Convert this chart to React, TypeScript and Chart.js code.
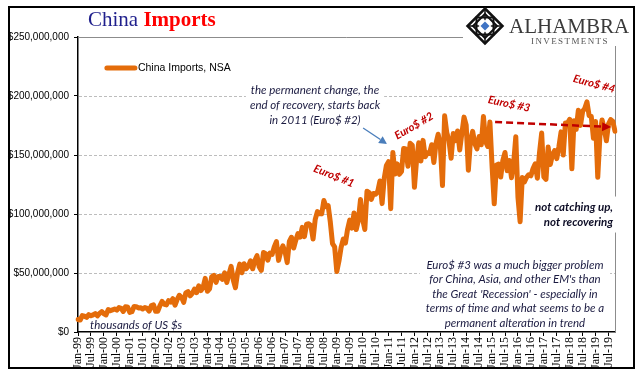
import React, { useEffect, useRef } from 'react';
import { Chart, registerables } from 'chart.js';

Chart.register(...registerables);

// ---------------- DATA (China imports, NSA, thousands of US$ — stored in millions of those units) ----------------
const START_YEAR = 1999;
const MONTHS = ['Jan', 'Feb', 'Mar', 'Apr', 'May', 'Jun', 'Jul', 'Aug', 'Sep', 'Oct', 'Nov', 'Dec'];

const imports1999 = [10.6, 10.1, 13.9, 13.4, 12.4, 14.7, 13.7, 14.5, 15.6, 13.7, 15.8, 17.3];
const imports2000 = [15.4, 14.5, 19.0, 18.1, 18.8, 19.5, 18.5, 20.7, 20.0, 17.4, 21.3, 21.2];
const imports2001 = [16.6, 17.2, 21.6, 21.5, 20.4, 20.6, 19.5, 20.8, 20.0, 17.7, 22.4, 23.0];
const imports2002 = [17.5, 17.6, 22.4, 25.9, 23.4, 23.0, 26.6, 25.4, 28.2, 22.7, 27.7, 31.1];
const imports2003 = [29.4, 25.1, 33.2, 34.3, 30.7, 32.8, 36.4, 33.3, 39.1, 35.1, 37.9, 45.5];
const imports2004 = [34.5, 36.5, 46.8, 48.0, 42.1, 47.1, 47.0, 44.6, 50.2, 42.0, 49.1, 55.6];
const imports2005 = [44.1, 37.5, 50.3, 57.5, 50.2, 57.9, 53.7, 55.8, 60.4, 53.6, 60.6, 64.7];
const imports2006 = [55.3, 52.2, 67.4, 66.4, 60.9, 66.8, 65.7, 72.0, 76.6, 60.7, 68.1, 73.0];
const imports2007 = [68.1, 58.8, 76.7, 80.3, 71.2, 77.8, 83.4, 80.4, 88.7, 80.8, 91.3, 91.7];
const imports2008 = [90.1, 78.8, 95.5, 102.0, 100.3, 100.1, 111.4, 106.2, 107.1, 93.1, 74.9, 72.2];
const imports2009 = [51.3, 60.1, 71.7, 78.8, 75.4, 87.1, 94.8, 88.0, 100.9, 86.8, 94.6, 112.3];
const imports2010 = [95.3, 86.9, 119.3, 118.2, 112.3, 117.4, 116.8, 119.3, 128.0, 108.8, 130.4, 141.1];
const imports2011 = [144.3, 104.5, 152.2, 133.9, 142.5, 133.6, 136.0, 155.6, 155.2, 140.5, 160.0, 158.2];
const imports2012 = [122.6, 146.0, 160.3, 144.9, 162.4, 148.5, 151.8, 151.3, 158.7, 143.6, 159.8, 167.6];
const imports2013 = [158.2, 124.1, 183.2, 168.9, 162.4, 147.2, 168.2, 162.1, 170.4, 154.3, 168.4, 182.1];
const imports2014 = [175.2, 137.1, 162.4, 170.0, 159.6, 155.2, 165.6, 158.7, 182.7, 161.5, 157.2, 177.9];
const imports2015 = [140.3, 108.6, 141.5, 142.2, 131.3, 145.5, 152.1, 136.6, 145.3, 130.8, 143.1, 165.5];
const imports2016 = [114.2, 93.5, 130.9, 127.2, 131.1, 133.3, 132.4, 138.6, 142.5, 130.3, 152.2, 168.6];
const imports2017 = [131.5, 129.3, 156.7, 142.0, 150.2, 153.8, 146.9, 157.3, 169.6, 150.0, 177.2, 177.1];
const imports2018 = [180.2, 138.3, 179.1, 171.7, 188.0, 175.1, 187.0, 189.5, 195.0, 183.3, 182.7, 164.2];
const imports2019 = [178.4, 131.1, 166.0, 179.7, 172.1, 162.0, 176.4, 180.0, 178.4, 170.1];

const importsMillions = [
  ...imports1999, ...imports2000, ...imports2001, ...imports2002, ...imports2003, ...imports2004,
  ...imports2005, ...imports2006, ...imports2007, ...imports2008, ...imports2009, ...imports2010,
  ...imports2011, ...imports2012, ...imports2013, ...imports2014, ...imports2015, ...imports2016,
  ...imports2017, ...imports2018, ...imports2019,
];

const categories = importsMillions.map(
  (_, i) => `${MONTHS[i % 12]}-${String((START_YEAR + Math.floor(i / 12)) % 100).padStart(2, '0')}`
);

const SERIES_NAME = 'China Imports, NSA';
const Y_MIN = 0;
const Y_MAX = 250000000;
const Y_STEP = 50000000;
const LABEL_EVERY = 6;

const TITLE_A = 'China';
const TITLE_B = 'Imports';
const LOGO_MAIN = 'ALHAMBRA';
const LOGO_SUB = 'INVESTMENTS';

const noteRecovery = ['the permanent change, the', 'end of recovery, starts back', 'in 2011 (Euro$ #2)'];
const noteCatching = ['not catching up,', 'not recovering'];
const noteBox = [
  'Euro$ #3 was a much bigger problem',
  "for China, Asia, and other EM's than",
  "the Great 'Recession' - especially in",
  'terms of time and what seems to be a',
  'permanent alteration in trend',
];
const noteUnits = 'thousands of US $s';
const euroLabels = ['Euro$ #1', 'Euro$ #2', 'Euro$ #3', 'Euro$ #4'];

// ---------------- STYLES ----------------
const ORANGE = '#E46C0A';
const NOTE_COLOR = '#1a1a40';
const EURO_RED = '#C00000';
const ITALIC = 'italic 11.5px Lato, "Open Sans", sans-serif';
const BOLD_ITALIC = 'italic bold 11.5px Lato, "Open Sans", sans-serif';
const EURO_FONT = 'italic bold 11px Lato, "Open Sans", sans-serif';

function drawArrow(ctx: CanvasRenderingContext2D, x1: number, y1: number, x2: number, y2: number, color: string, lw: number, head: number, dash: number[]) {
  const ang = Math.atan2(y2 - y1, x2 - x1);
  const bx = x2 - head * Math.cos(ang);
  const by = y2 - head * Math.sin(ang);
  ctx.save();
  ctx.strokeStyle = color;
  ctx.lineWidth = lw;
  ctx.setLineDash(dash);
  ctx.beginPath();
  ctx.moveTo(x1, y1);
  ctx.lineTo(bx, by);
  ctx.stroke();
  ctx.setLineDash([]);
  ctx.fillStyle = color;
  ctx.beginPath();
  ctx.moveTo(x2, y2);
  ctx.lineTo(bx + head * 0.5 * Math.sin(ang), by - head * 0.5 * Math.cos(ang));
  ctx.lineTo(bx - head * 0.5 * Math.sin(ang), by + head * 0.5 * Math.cos(ang));
  ctx.closePath();
  ctx.fill();
  ctx.restore();
}

function whiteBox(ctx: CanvasRenderingContext2D, lines: string[], font: string, x: number, y0: number, lh: number, align: 'center' | 'right' | 'left') {
  ctx.save();
  ctx.font = font;
  const w = Math.max(...lines.map((l) => ctx.measureText(l).width));
  let left = x - w / 2;
  if (align === 'right') left = x - w;
  if (align === 'left') left = x;
  ctx.fillStyle = '#fff';
  ctx.fillRect(left - 4, y0 - lh / 2 - 3, w + 8, lh * lines.length + 6);
  ctx.restore();
}

function textLines(ctx: CanvasRenderingContext2D, lines: string[], font: string, color: string, x: number, y0: number, lh: number, align: CanvasTextAlign) {
  ctx.save();
  ctx.font = font;
  ctx.fillStyle = color;
  ctx.textAlign = align;
  ctx.textBaseline = 'middle';
  lines.forEach((l, k) => ctx.fillText(l, x, y0 + k * lh));
  ctx.restore();
}

const annotationPlugin = {
  id: 'annotations',
  beforeDraw(chart: any) {
    const ctx = chart.ctx as CanvasRenderingContext2D;
    ctx.save();
    ctx.fillStyle = '#fff';
    ctx.fillRect(0, 0, chart.width, chart.height);
    ctx.strokeStyle = '#000';
    ctx.lineWidth = 2;
    ctx.strokeRect(9, 7, 625, 361);
    ctx.restore();
  },
  beforeDatasetsDraw(chart: any) {
    const ctx = chart.ctx as CanvasRenderingContext2D;
    const ca = chart.chartArea;
    const { x, y } = chart.scales;
    const at = (i: number, v: number) => [x.getPixelForValue(i), y.getPixelForValue(v * 1e6)];
    ctx.save();
    ctx.strokeStyle = '#bdbdbd';
    ctx.lineWidth = 1;
    ctx.setLineDash([3, 2]);
    for (const t of y.ticks) {
      if (t.value <= Y_MIN || t.value >= Y_MAX) continue;
      const py = Math.round(y.getPixelForValue(t.value)) + 0.5;
      ctx.beginPath();
      ctx.moveTo(ca.left + 1, py);
      ctx.lineTo(ca.right, py);
      ctx.stroke();
    }
    ctx.setLineDash([]);
    ctx.strokeStyle = '#8c8c8c';
    ctx.beginPath();
    ctx.moveTo(ca.left, Math.round(ca.top) + 0.5);
    ctx.lineTo(Math.round(ca.right) + 0.5, Math.round(ca.top) + 0.5);
    ctx.lineTo(Math.round(ca.right) + 0.5, ca.bottom);
    ctx.stroke();
    ctx.restore();

    const [rx, ry] = at(109.9, 205.1);
    whiteBox(ctx, noteRecovery, ITALIC, rx, ry, 15, 'center');
    const [cx, cy] = at(248.1, 105.9);
    whiteBox(ctx, noteCatching, BOLD_ITALIC, cx, cy, 15, 'right');
    const [bx, by] = at(202.6, 56.8);
    ctx.save();
    ctx.font = ITALIC;
    const bw = Math.max(...noteBox.map((l) => ctx.measureText(l).width));
    ctx.fillStyle = '#fff';
    ctx.fillRect(bx - bw / 2 - 6, by - 10, Math.min(bw + 12, ca.right - (bx - bw / 2 - 6) - 1), ca.bottom - (by - 10) - 1);
    ctx.restore();
  },
  afterDatasetsDraw(chart: any) {
    const ctx = chart.ctx as CanvasRenderingContext2D;
    const ca = chart.chartArea;
    const { x, y } = chart.scales;
    const at = (i: number, v: number) => [x.getPixelForValue(i), y.getPixelForValue(v * 1e6)];

    // legend
    const [l1x, ly] = at(13.4, 223.7);
    const [l2x] = at(26.4, 223.7);
    ctx.save();
    ctx.strokeStyle = ORANGE;
    ctx.lineWidth = 5;
    ctx.lineCap = 'round';
    ctx.beginPath();
    ctx.moveTo(l1x, ly);
    ctx.lineTo(l2x, ly);
    ctx.stroke();
    ctx.fillStyle = '#000';
    ctx.font = '10.5px "Liberation Sans", Arial, sans-serif';
    ctx.textBaseline = 'middle';
    ctx.fillText(SERIES_NAME, l2x + 3, ly);
    ctx.restore();

    // notes
    const [rx, ry] = at(109.9, 205.1);
    textLines(ctx, noteRecovery, ITALIC, NOTE_COLOR, rx, ry, 15, 'center');
    const [cx, cy] = at(248.1, 105.9);
    textLines(ctx, noteCatching, BOLD_ITALIC, '#0d0d26', cx, cy, 15, 'right');
    const [bx, by] = at(202.6, 56.8);
    textLines(ctx, noteBox, ITALIC, NOTE_COLOR, bx, by, 14.5, 'center');
    const [ux, uy] = at(5.6, 5.9);
    textLines(ctx, [noteUnits], ITALIC, NOTE_COLOR, ux, uy, 15, 'left');

    // arrows
    const [a1x, a1y] = at(132.2, 172.9);
    const [a2x, a2y] = at(143.3, 159.3);
    drawArrow(ctx, a1x, a1y, a2x, a2y, '#4A7EBB', 1.3, 8, []);
    const [d1x, d1y] = at(193.4, 178.0);
    const [d2x, d2y] = at(247.2, 173.7);
    drawArrow(ctx, d1x, d1y, d2x, d2y, EURO_RED, 2.5, 9, [7, 4]);

    // Euro$ labels
    const euroPos: [number, number, number][] = [
      [118.7, 132.2, 22],
      [155.8, 174.6, -30],
      [199.9, 193.2, 12],
      [239.3, 210.2, 15],
    ];
    euroLabels.forEach((t, k) => {
      const [ex, ey] = at(euroPos[k][0], euroPos[k][1]);
      ctx.save();
      ctx.beginPath();
      ctx.rect(0, 0, ca.right, chart.height);
      ctx.clip();
      ctx.translate(ex, ey);
      ctx.rotate((euroPos[k][2] * Math.PI) / 180);
      ctx.font = EURO_FONT;
      ctx.fillStyle = EURO_RED;
      ctx.textAlign = 'center';
      ctx.textBaseline = 'middle';
      ctx.fillText(t, 0, 0);
      ctx.restore();
    });

    // title
    ctx.save();
    ctx.textBaseline = 'alphabetic';
    ctx.font = '21px "Liberation Serif", "Times New Roman", serif';
    ctx.fillStyle = '#1F1F8C';
    ctx.fillText(TITLE_A, 88, 26);
    const wA = ctx.measureText(TITLE_A + ' ').width;
    ctx.font = 'bold 21px "Liberation Serif", "Times New Roman", serif';
    ctx.fillStyle = '#FF0000';
    ctx.fillText(TITLE_B, 88 + wA, 26);
    ctx.restore();

    // logo
    ctx.save();
    ctx.fillStyle = '#fff';
    ctx.fillRect(463, 8, 170, 38);
    const lx = 485, lyc = 26, R = 17.5;
    ctx.strokeStyle = '#111';
    ctx.lineJoin = 'miter';
    ctx.lineWidth = 2.5;
    ctx.beginPath();
    ctx.moveTo(lx, lyc - R); ctx.lineTo(lx + R, lyc); ctx.lineTo(lx, lyc + R); ctx.lineTo(lx - R, lyc); ctx.closePath();
    ctx.stroke();
    ctx.lineWidth = 2;
    const s = 8.5;
    ctx.strokeRect(lx - s, lyc - s, 2 * s, 2 * s);
    ctx.beginPath();
    ctx.moveTo(lx, lyc - 12); ctx.lineTo(lx + 12, lyc); ctx.lineTo(lx, lyc + 12); ctx.lineTo(lx - 12, lyc); ctx.closePath();
    ctx.stroke();
    ctx.lineWidth = 1.5;
    ctx.beginPath();
    ctx.moveTo(lx - R, lyc); ctx.lineTo(lx + R, lyc);
    ctx.moveTo(lx, lyc - R); ctx.lineTo(lx, lyc + R);
    ctx.stroke();
    ctx.fillStyle = '#fff';
    ctx.beginPath();
    ctx.moveTo(lx, lyc - 6.5); ctx.lineTo(lx + 6.5, lyc); ctx.lineTo(lx, lyc + 6.5); ctx.lineTo(lx - 6.5, lyc); ctx.closePath();
    ctx.fill();
    ctx.fillStyle = '#3E73C4';
    ctx.beginPath();
    ctx.moveTo(lx, lyc - 4.5); ctx.lineTo(lx + 4.5, lyc); ctx.lineTo(lx, lyc + 4.5); ctx.lineTo(lx - 4.5, lyc); ctx.closePath();
    ctx.fill();

    ctx.fillStyle = '#3a3a3a';
    ctx.textBaseline = 'alphabetic';
    (ctx as any).letterSpacing = '0px';
    ctx.font = '21px "Liberation Serif", "Times New Roman", serif';
    ctx.fillText(LOGO_MAIN, 509, 33);
    (ctx as any).letterSpacing = '1.4px';
    ctx.fillStyle = '#555';
    ctx.font = '9px "Liberation Serif", "Times New Roman", serif';
    ctx.fillText(LOGO_SUB, 531, 43.5);
    (ctx as any).letterSpacing = '0px';
    ctx.restore();
  },
};

export default function App() {
  const ref = useRef<HTMLCanvasElement>(null);
  useEffect(() => {
    if (!ref.current) return;
    const chart = new Chart(ref.current, {
      type: 'line',
      data: {
        labels: categories,
        datasets: [
          {
            label: SERIES_NAME,
            data: importsMillions.map((v) => v * 1e6),
            borderColor: ORANGE,
            backgroundColor: ORANGE,
            borderWidth: 5,
            pointRadius: 0,
            tension: 0,
            borderJoinStyle: 'round',
            borderCapStyle: 'round',
            fill: false,
          },
        ],
      },
      options: {
        responsive: false,
        animation: false,
        devicePixelRatio: 1,
        layout: { padding: { left: 0, top: 37, right: 26, bottom: 0 } },
        plugins: { legend: { display: false }, tooltip: { enabled: false }, title: { display: false } },
        scales: {
          x: {
            type: 'category',
            offset: false,
            grid: {
              drawOnChartArea: false,
              drawTicks: true,
              tickLength: 4,
              tickWidth: 1,
              tickColor: (c: any) => (c.index % LABEL_EVERY === 0 ? '#000' : 'rgba(0,0,0,0)'),
            },
            border: { color: '#000', width: 1.5 },
            ticks: {
              autoSkip: false,
              maxRotation: 90,
              minRotation: 90,
              padding: 1,
              color: '#000',
              font: { family: '"Liberation Serif", "Times New Roman", serif', size: 12 },
              callback: (_v: any, i: number) => (i % LABEL_EVERY === 0 ? categories[i] : ''),
            },
            afterFit: (s: any) => {
              s.height = 49;
            },
          },
          y: {
            min: Y_MIN,
            max: Y_MAX,
            ticks: {
              stepSize: Y_STEP,
              padding: 5,
              color: '#000',
              font: { family: '"Liberation Sans", Arial, sans-serif', size: 10 },
              callback: (v: any) => '$' + Number(v).toLocaleString('en-US'),
            },
            grid: { drawOnChartArea: false, tickLength: 4, tickColor: '#000' },
            border: { color: '#000', width: 1.5 },
            afterFit: (s: any) => {
              s.width = 78;
            },
          },
        },
      } as any,
      plugins: [annotationPlugin],
    });
    return () => chart.destroy();
  }, []);
  return (
    <div style={{ position: 'fixed', left: 0, top: 0, width: 641, height: 381, background: '#fff' }}>
      <canvas ref={ref} width={641} height={381} style={{ display: 'block', width: 641, height: 381 }} />
    </div>
  );
}
